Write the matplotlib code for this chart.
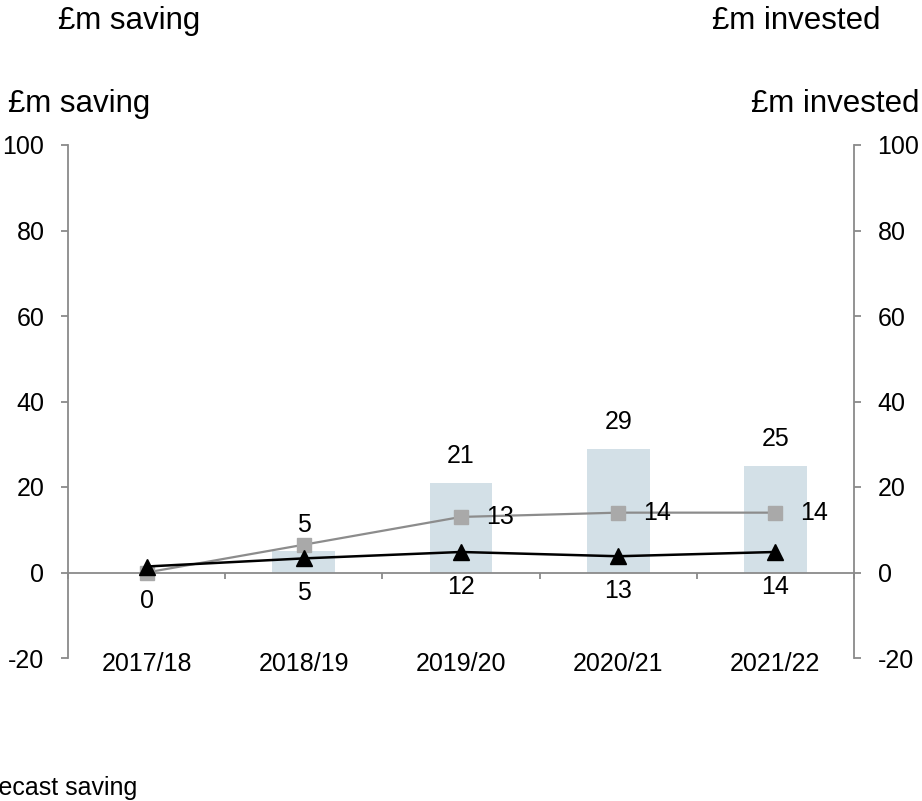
import numpy as np
import matplotlib.pyplot as plt

plt.rcParams['font.family'] = ['Liberation Sans', 'DejaVu Sans']

categories = ['2017/18', '2018/19', '2019/20', '2020/21', '2021/22']
invested = [0, 5, 21, 29, 25]
invested_labels = ['', '5', '21', '29', '25']
forecast_saving = [0, 6.5, 13, 14, 14]
forecast_labels = ['', '', '13', '14', '14']
actual_saving = [1.4, 3.3, 4.8, 3.8, 4.8]
actual_labels = ['0', '5', '12', '13', '14']
yticks = [-20, 0, 20, 40, 60, 80, 100]

axis_grey = '#8a8a8a'
bar_col = '#d3e0e7'

fig = plt.figure(figsize=(9.22, 8.01), dpi=100)
ax = fig.add_axes([68 / 922, 1 - 658 / 801, (854 - 68) / 922, (658 - 145) / 801])

x = np.arange(len(categories))

ax.bar(x, invested, width=0.4, color=bar_col, zorder=1)
ax.plot(x, forecast_saving, color='#8c8c8c', lw=1.6, marker='s', ms=10.5,
        mfc='#a9a9a9', mec='#a9a9a9', zorder=3)
ax.plot(x, actual_saving, color='black', lw=1.8, marker='^', ms=11,
        mfc='black', mec='black', zorder=4)

# data labels
for i, lab in enumerate(invested_labels):
    if lab:
        ax.annotate(lab, (x[i], invested[i]), xytext=(0, 19), textcoords='offset points',
                    ha='center', va='center', fontsize=18)
for i, lab in enumerate(forecast_labels):
    if lab:
        ax.annotate(lab, (x[i], forecast_saving[i]), xytext=(28, 0), textcoords='offset points',
                    ha='center', va='center', fontsize=18)
for i, lab in enumerate(actual_labels):
    ax.annotate(lab, (x[i], actual_saving[i]), xytext=(0, -25), textcoords='offset points',
                ha='center', va='center', fontsize=18)

# category labels under the plot area
for i, cat in enumerate(categories):
    ax.annotate(cat, (x[i], -20), xytext=(0, -4), textcoords='offset points',
                ha='center', va='center', fontsize=18)

ax.set_xlim(-0.5, 4.5)
ax.set_ylim(-20, 100)
ax.set_yticks(yticks)
ax.set_yticklabels([str(v) for v in yticks])
ax.yaxis.set_ticks_position('both')
ax.tick_params(axis='y', which='both', direction='out', length=5, width=1.3,
               color=axis_grey, labelsize=18, pad=12, labelright=True)

# x axis sits on zero with ticks between categories
ax.spines['bottom'].set_position(('data', 0))
ax.set_xticks(np.arange(-0.5, 5, 1))
ax.set_xticklabels([])
ax.tick_params(axis='x', direction='out', length=4.5, width=1.3, color=axis_grey)

ax.spines['top'].set_visible(False)
for side in ['left', 'right', 'bottom']:
    ax.spines[side].set_color(axis_grey)
    ax.spines[side].set_linewidth(1.3)
ax.spines['bottom'].set_zorder(2)

fig.text(58 / 922, 1 - 21 / 801, '£m saving', ha='left', va='center', fontsize=22.5)
fig.text(880 / 922, 1 - 21 / 801, '£m invested', ha='right', va='center', fontsize=22.5)
fig.text(8 / 922, 1 - 104 / 801, '£m saving', ha='left', va='center', fontsize=22.5)
fig.text(919 / 922, 1 - 104 / 801, '£m invested', ha='right', va='center', fontsize=22.5)
fig.text(137 / 922, 1 - 788 / 801, 'Forecast saving', ha='right', va='center', fontsize=18)

fig.savefig('out.png', dpi=100)
